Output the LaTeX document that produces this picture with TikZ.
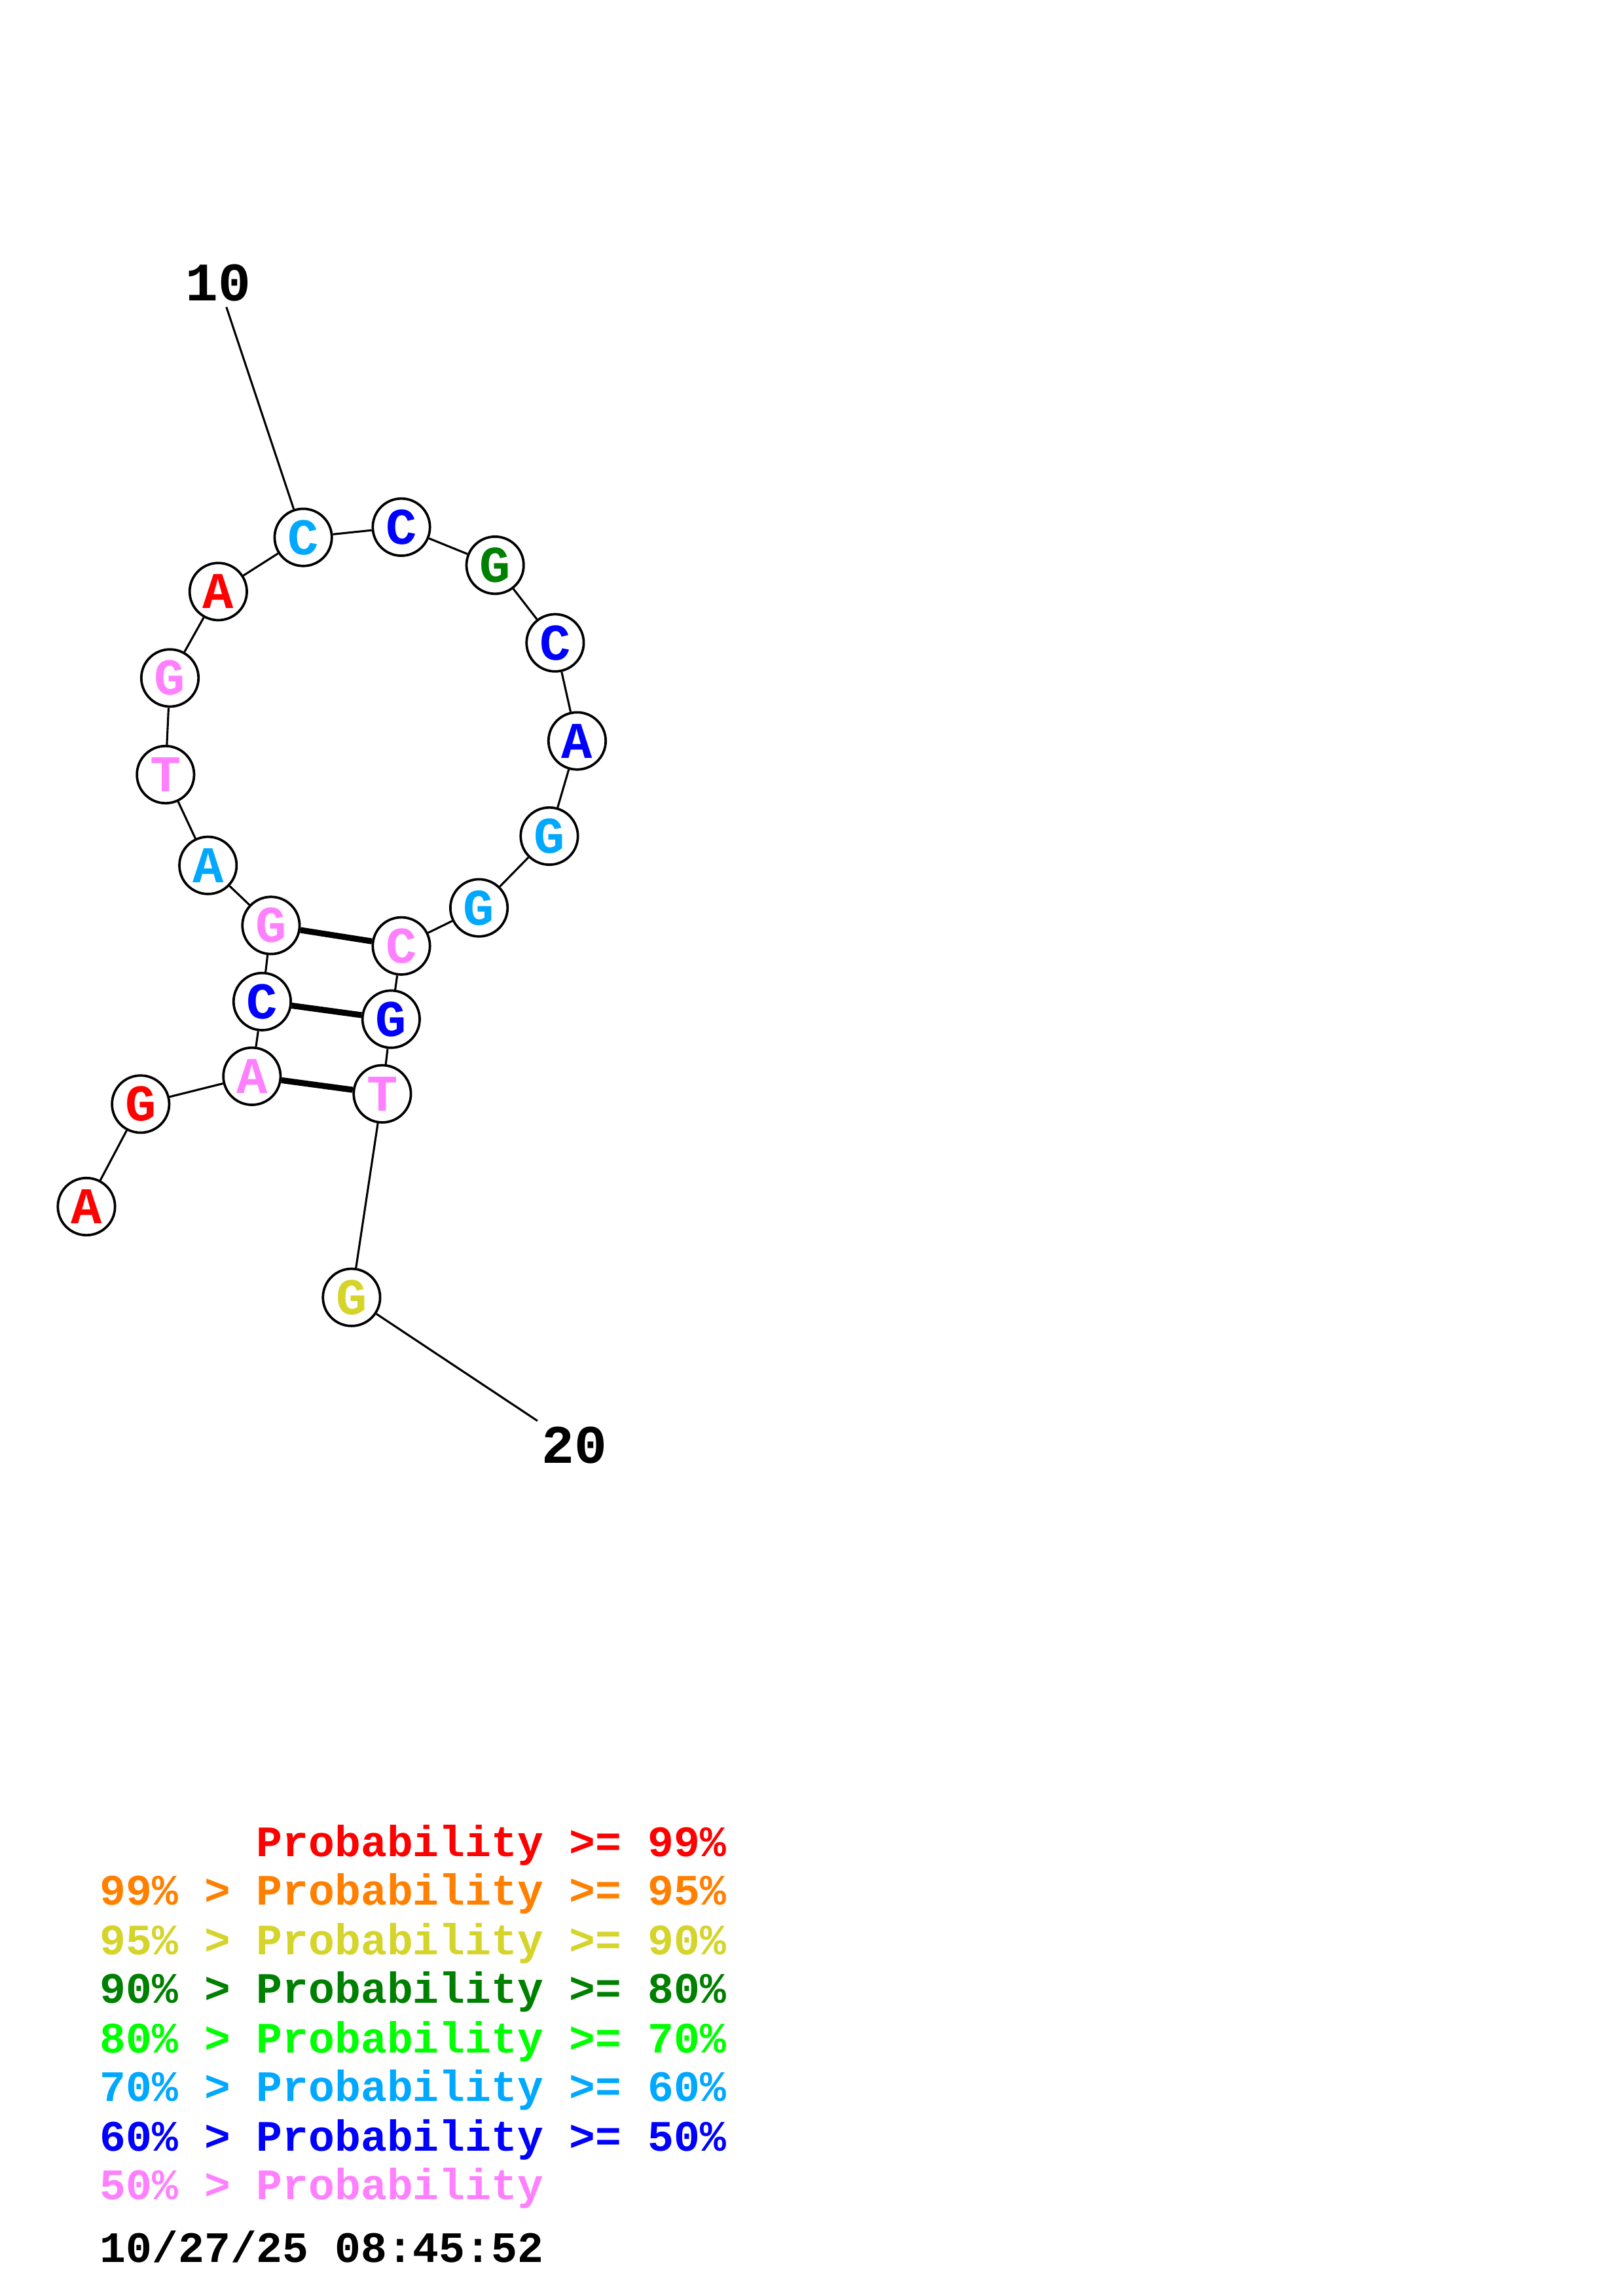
\documentclass[tikz,border=0pt]{standalone}
\usepackage{fontspec}
\setmonofont{Liberation Mono}
\usepackage{tikz}
\usetikzlibrary{positioning}

\definecolor{pred}{RGB}{255,0,0}
\definecolor{porange}{RGB}{255,128,0}
\definecolor{pyellow}{RGB}{212,212,42}
\definecolor{pdkgreen}{RGB}{0,128,0}
\definecolor{pgreen}{RGB}{0,255,0}
\definecolor{pcyan}{RGB}{0,168,255}
\definecolor{pblue}{RGB}{0,0,255}
\definecolor{ppink}{RGB}{255,128,255}

\begin{document}
\begin{tikzpicture}[
    x=0.018953cm, y=-0.018953cm,
    nt/.style={circle, draw, line width=0.9pt, fill=white, inner sep=0pt,
      minimum size=0.74cm, font=\fontsize{19}{19}\selectfont\ttfamily\bfseries},
    bb/.style={line width=0.75pt},
    bp/.style={line width=2.2pt},
    endlab/.style={inner sep=2pt, font=\fontsize{20}{20}\selectfont\ttfamily\bfseries},
    legend/.style={anchor=base west, inner sep=0pt,
      font=\fontsize{16}{16}\selectfont\ttfamily\bfseries}
  ]
  \useasboundingbox (0,0) rectangle (1108,1568);

  % nucleotides 5' to 3'
  \node[nt, text=pred] (n1) at (59,824) {A};
  \node[nt, text=pred] (n2) at (96,754) {G};
  \node[nt, text=ppink] (n3) at (172,735) {A};
  \node[nt, text=pblue] (n4) at (179,684) {C};
  \node[nt, text=ppink] (n5) at (185,632) {G};
  \node[nt, text=pcyan] (n6) at (142,591) {A};
  \node[nt, text=ppink] (n7) at (113,529) {T};
  \node[nt, text=ppink] (n8) at (116,463) {G};
  \node[nt, text=pred] (n9) at (149,404) {A};
  \node[nt, text=pcyan] (n10) at (207,367) {C};
  \node[nt, text=pblue] (n11) at (274,360) {C};
  \node[nt, text=pdkgreen] (n12) at (338,386) {G};
  \node[nt, text=pblue] (n13) at (379,439) {C};
  \node[nt, text=pblue] (n14) at (394,506) {A};
  \node[nt, text=pcyan] (n15) at (375,571) {G};
  \node[nt, text=pcyan] (n16) at (327,620) {G};
  \node[nt, text=ppink] (n17) at (274,646) {C};
  \node[nt, text=pblue] (n18) at (267,696) {G};
  \node[nt, text=ppink] (n19) at (261,747) {T};
  \node[nt, text=pyellow] (n20) at (240,886) {G};

  \node[endlab] (lab10) at (149,193) {10};
  \node[endlab] (lab20) at (392,987) {20};

  % backbone
  \draw[bb] (n1) -- (n2) -- (n3) -- (n4) -- (n5) -- (n6) -- (n7) -- (n8)
    -- (n9) -- (n10) -- (n11) -- (n12) -- (n13) -- (n14) -- (n15) -- (n16)
    -- (n17) -- (n18) -- (n19) -- (n20);
  \draw[bb] (lab10) -- (n10);
  \draw[bb] (n20) -- (lab20);

  % base pairs
  \draw[bp] (n5) -- (n17);
  \draw[bp] (n4) -- (n18);
  \draw[bp] (n3) -- (n19);

  % legend
  \node[legend, text=pred] (l1) at (68,1268) {\phantom{99\% > }Probability >= 99\%};
  \node[legend, text=porange] (l2) at (68,1301) {99\% > Probability >= 95\%};
  \node[legend, text=pyellow] (l3) at (68,1335) {95\% > Probability >= 90\%};
  \node[legend, text=pdkgreen] (l4) at (68,1368) {90\% > Probability >= 80\%};
  \node[legend, text=pgreen] (l5) at (68,1402) {80\% > Probability >= 70\%};
  \node[legend, text=pcyan] (l6) at (68,1435) {70\% > Probability >= 60\%};
  \node[legend, text=pblue] (l7) at (68,1469) {60\% > Probability >= 50\%};
  \node[legend, text=ppink] (l8) at (68,1502) {50\% > Probability};
  \node[legend] (date) at (68,1545) {10/27/25 08:45:52};
\end{tikzpicture}
\end{document}
